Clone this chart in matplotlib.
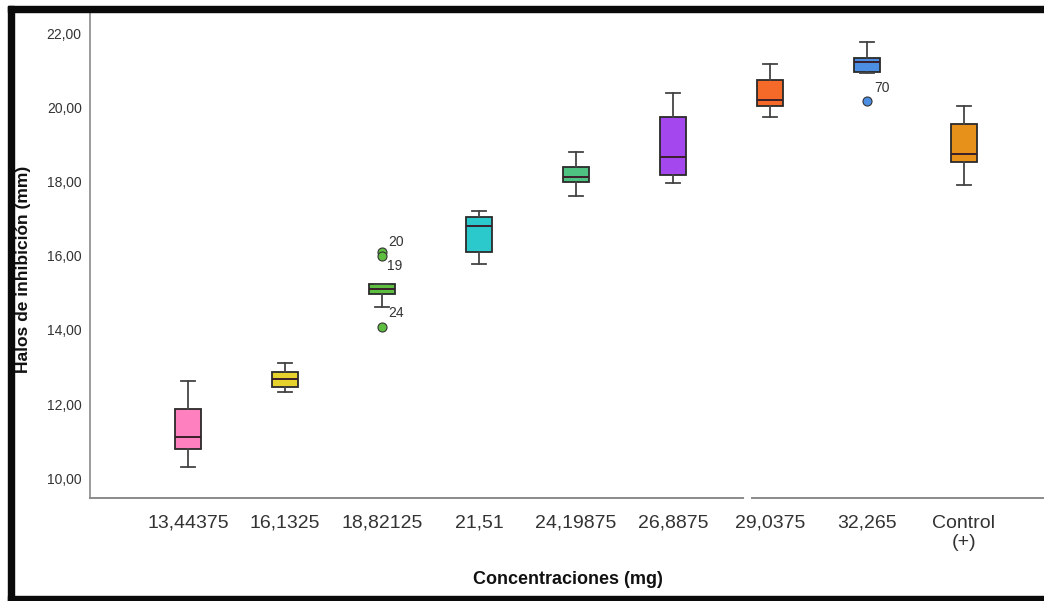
import matplotlib
matplotlib.use("Agg")
import matplotlib.pyplot as plt
from matplotlib.patches import Rectangle
from matplotlib.lines import Line2D

plt.rcParams['font.family'] = ['Liberation Sans', 'DejaVu Sans']

categories = ["13,44375", "16,1325", "18,82125", "21,51", "24,19875",
              "26,8875", "29,0375", "32,265", "Control\n(+)"]
whis_low = [10.30, 12.33, 14.63, 15.77, 17.62, 17.96, 19.75, 20.94, 17.91]
q1 = [10.79, 12.47, 14.96, 16.12, 17.99, 18.18, 20.05, 20.97, 18.53]
median = [11.11, 12.68, 15.12, 16.80, 18.13, 18.67, 20.21, 21.24, 18.75]
q3 = [11.87, 12.87, 15.23, 17.04, 18.40, 19.75, 20.75, 21.35, 19.56]
whis_high = [12.63, 13.12, 15.23, 17.21, 18.80, 20.40, 21.19, 21.78, 20.05]
outliers = [[], [], [16.12, 15.99, 14.09], [], [], [], [], [20.19], []]
outlier_ids = [[], [], ["20", "19", "24"], [], [], [], [], ["70"], []]
box_colors = ["#FF80BE", "#E6D22C", "#5EBE40", "#2CC9CC", "#4EC281",
              "#A447EF", "#F56A28", "#4B8EE2", "#E8911A"]

fig = plt.figure(figsize=(10.44, 6.01), dpi=100)
W, H = 1044, 601
ax = fig.add_axes([90 / W, 1 - 498 / H, (W - 90) / W, (498 - 11) / H])

stats = []
for i in range(len(categories)):
    stats.append(dict(med=median[i], q1=q1[i], q3=q3[i],
                      whislo=whis_low[i], whishi=whis_high[i],
                      fliers=outliers[i], label=categories[i]))

edge = "#2a2a2a"
res = ax.bxp(stats, positions=range(len(categories)), widths=0.26,
             capwidths=0.15, patch_artist=True, showfliers=True,
             boxprops=dict(edgecolor=edge, linewidth=1.3),
             medianprops=dict(color="#3a1f2a", linewidth=1.4),
             whiskerprops=dict(color="#444444", linewidth=1.3),
             capprops=dict(color="#444444", linewidth=1.3),
             flierprops=dict(marker="o", markersize=6.5,
                             markeredgecolor="#333333", markeredgewidth=0.8))
for patch, c in zip(res["boxes"], box_colors):
    patch.set_facecolor(c)
for fl, c in zip(res["fliers"], box_colors):
    fl.set_markerfacecolor(c)

# case-number labels next to outliers
offsets = {"20": (0.06, 0.27), "19": (0.05, -0.27), "24": (0.06, 0.38), "70": (0.07, 0.35)}
for i, (vals, ids) in enumerate(zip(outliers, outlier_ids)):
    for v, lab in zip(vals, ids):
        dx, dy = offsets[lab]
        ax.text(i + dx, v + dy, lab, fontsize=10, color="#333333",
                ha="left", va="center")

ymin, ymax = 9.46, 22.62
ax.set_ylim(ymin, ymax)
ax.set_xlim(-1.01, 8.825)
ax.set_yticks([10, 12, 14, 16, 18, 20, 22])
ax.set_yticklabels([f"{v:.2f}".replace(".", ",") for v in [10, 12, 14, 16, 18, 20, 22]],
                   fontsize=10, color="#333333")
ax.set_xticks(range(len(categories)))
ax.set_xticklabels(categories, fontsize=14, color="#333333", linespacing=1.15)
ax.tick_params(axis="both", length=0)
ax.tick_params(axis="x", pad=12)
ax.tick_params(axis="y", pad=6)

for s in ["top", "right", "bottom"]:
    ax.spines[s].set_visible(False)
ax.spines["left"].set_color("#8a8a8a")
ax.spines["left"].set_linewidth(1.2)

# baseline with a small break between the 6th and 7th groups
for x0, x1 in [(-1.01, 5.72), (5.81, 8.825)]:
    ax.add_line(Line2D([x0, x1], [ymin, ymin], color="#8a8a8a", linewidth=1.4,
                       clip_on=False))

fig.text(568 / W, 1 - 580 / H, "Concentraciones (mg)", fontsize=13,
         fontweight="bold", ha="center", va="center", color="#111111")
fig.text(24 / W, 1 - 269 / H, "Halos de inhibición (mm)", fontsize=12.5,
         fontweight="bold", ha="center", va="center", rotation=90,
         color="#111111", zorder=20)

# black frame
k = "#0a0a0a"
fig.patches.append(Rectangle((8 / W, 0), 6 / W, 1 - 6 / H, transform=fig.transFigure,
                             color=k, zorder=10))
fig.patches.append(Rectangle((8 / W, 1 - 11.5 / H), 1 - 8 / W, 5.5 / H,
                             transform=fig.transFigure, color=k, zorder=10))
fig.patches.append(Rectangle((8 / W, 0), 1 - 8 / W, 5 / H,
                             transform=fig.transFigure, color=k, zorder=10))

fig.savefig("out.png", dpi=100)
